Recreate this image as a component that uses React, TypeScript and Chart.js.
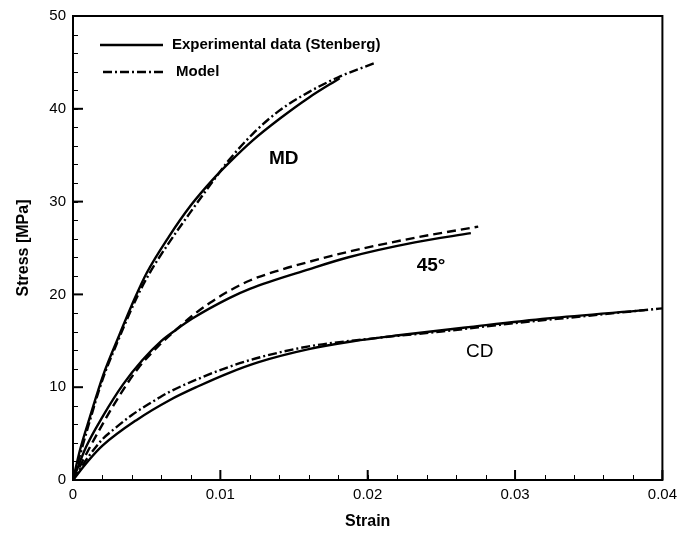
import React, { useEffect, useRef } from "react";
import { Chart, registerables } from "chart.js";
Chart.register(...registerables);

// ---- Data (strain, stress in MPa) ----
const mdExpStrain = [0, 0.00047, 0.00115, 0.00205, 0.00306, 0.0042, 0.005, 0.0065, 0.008, 0.0095, 0.0106, 0.0122, 0.014, 0.016, 0.0181];
const mdExpStress = [0, 3.2, 6.8, 11.3, 15.3, 19.6, 22.3, 26.2, 29.6, 32.4, 34.2, 36.6, 38.9, 41.2, 43.3];
const mdModelStrain = [0, 0.001, 0.002, 0.003, 0.0044, 0.0052, 0.0064, 0.0079, 0.0095, 0.0106, 0.0122, 0.014, 0.016, 0.018, 0.0206];
const mdModelStress = [0, 5.6, 10.8, 14.8, 19.9, 22.3, 25.3, 28.7, 32.2, 34.5, 37.3, 39.8, 41.8, 43.4, 45];

const d45ExpStrain = [0, 0.0009, 0.002, 0.0034, 0.0047, 0.006, 0.007, 0.0081, 0.0106, 0.012, 0.016, 0.0187, 0.0232, 0.027];
const d45ExpStress = [0, 3.6, 6.8, 10.3, 12.9, 15.0, 16.2, 17.4, 19.6, 20.6, 22.7, 24.0, 25.6, 26.6];
const d45ModelStrain = [0, 0.001, 0.002, 0.003, 0.0044, 0.0059, 0.007, 0.0081, 0.0093, 0.0104, 0.012, 0.014, 0.016, 0.0187, 0.0232, 0.0275];
const d45ModelStress = [0, 3.1, 6.0, 8.7, 12.0, 14.6, 16.2, 17.7, 19.1, 20.2, 21.5, 22.6, 23.5, 24.6, 26.1, 27.3];

const cdExpStrain = [0, 0.001, 0.002, 0.0043, 0.00655, 0.0085, 0.0106, 0.0126, 0.016, 0.019, 0.0221, 0.027, 0.0322, 0.0388];
const cdExpStress = [0, 2.0, 3.7, 6.45, 8.6, 10.1, 11.55, 12.7, 14.1, 14.95, 15.6, 16.5, 17.4, 18.3];
const cdModelStrain = [0, 0.001, 0.002, 0.00272, 0.004, 0.00588, 0.00655, 0.0085, 0.0106, 0.01264, 0.016, 0.02, 0.025, 0.03, 0.035, 0.04];
const cdModelStress = [0, 2.4, 4.4, 5.4, 7.0, 8.9, 9.5, 10.9, 12.2, 13.2, 14.4, 15.2, 16.0, 16.9, 17.7, 18.5];

const xTicks = [0, 0.01, 0.02, 0.03, 0.04];
const xTickLabels = ["0", "0.01", "0.02", "0.03", "0.04"];
const yTicks = [0, 10, 20, 30, 40, 50];
const yTickLabels = ["0", "10", "20", "30", "40", "50"];
const xMinorStep = 0.002;
const yMinorStep = 2;

const legendLabels = ["Experimental data (Stenberg)", "Model"];
const curveNames = ["MD", "45°", "CD"];
const curveNameStrain = [0.0143, 0.0243, 0.0276];
const curveNameStress = [34.6, 23.1, 13.8];

const FONT = "'Liberation Sans', Arial, Helvetica, sans-serif";

const pts = (xs: number[], ys: number[]) => xs.map((x, i) => ({ x, y: ys[i] }));

const SOLID: number[] = [];
const DASHDOT = [9, 3, 2, 3];
const DASHED = [9, 5];

export default function App() {
  const ref = useRef<HTMLCanvasElement | null>(null);

  useEffect(() => {
    document.body.style.margin = "0";
    const canvas = ref.current;
    if (!canvas) return;

    const line = (data: { x: number; y: number }[], dash: number[]) => ({
      data,
      borderColor: "#000",
      borderWidth: 2.4,
      borderDash: dash,
      pointRadius: 0,
      fill: false,
      cubicInterpolationMode: "monotone" as const,
    });

    const framePlugin = {
      id: "frameTicks",
      afterDraw(chart: any) {
        const ctx = chart.ctx;
        const { left, right, top, bottom } = chart.chartArea;
        const xs = chart.scales.x;
        const ys = chart.scales.y;
        ctx.save();
        ctx.strokeStyle = "#000";
        ctx.setLineDash([]);
        // minor ticks
        ctx.lineWidth = 1;
        for (let v = 0; v <= 0.04 + 1e-9; v += xMinorStep) {
          const px = Math.round(xs.getPixelForValue(v)) + 0.5;
          ctx.beginPath();
          ctx.moveTo(px, bottom);
          ctx.lineTo(px, bottom - 5);
          ctx.stroke();
        }
        for (let v = 0; v <= 50 + 1e-9; v += yMinorStep) {
          const py = Math.round(ys.getPixelForValue(v)) + 0.5;
          ctx.beginPath();
          ctx.moveTo(left, py);
          ctx.lineTo(left + 5, py);
          ctx.stroke();
        }
        // major ticks
        ctx.lineWidth = 2;
        xTicks.forEach((v) => {
          const px = xs.getPixelForValue(v);
          ctx.beginPath();
          ctx.moveTo(px, bottom);
          ctx.lineTo(px, bottom - 10);
          ctx.stroke();
        });
        yTicks.forEach((v) => {
          const py = ys.getPixelForValue(v);
          ctx.beginPath();
          ctx.moveTo(left, py);
          ctx.lineTo(left + 10, py);
          ctx.stroke();
        });
        // frame
        ctx.lineWidth = 2;
        ctx.strokeRect(left, top, right - left, bottom - top);

        // legend
        ctx.lineWidth = 2.4;
        ctx.font = `bold 15px ${FONT}`;
        ctx.fillStyle = "#000";
        ctx.textBaseline = "middle";
        ctx.textAlign = "left";
        const lx0 = left + 27;
        const rows = [
          { y: top + 29, dash: SOLID, tx: left + 99, text: legendLabels[0] },
          { y: top + 56, dash: DASHDOT, tx: left + 103, text: legendLabels[1] },
        ];
        rows.forEach((r, i) => {
          ctx.setLineDash(r.dash);
          ctx.beginPath();
          ctx.moveTo(lx0 + (i === 1 ? 3 : 0), r.y);
          ctx.lineTo(lx0 + 63 + (i === 1 ? 3 : 0), r.y);
          ctx.stroke();
          ctx.fillText(r.text, r.tx, r.y);
        });
        ctx.setLineDash([]);

        // curve names
        ctx.textAlign = "center";
        curveNames.forEach((n, i) => {
          ctx.font = `${i === 2 ? "" : "bold "}19px ${FONT}`;
          ctx.fillText(n, xs.getPixelForValue(curveNameStrain[i]), ys.getPixelForValue(curveNameStress[i]));
        });
        ctx.restore();
      },
    };

    const chart = new Chart(canvas, {
      type: "line",
      data: {
        datasets: [
          line(pts(mdExpStrain, mdExpStress), SOLID),
          line(pts(mdModelStrain, mdModelStress), DASHDOT),
          line(pts(d45ExpStrain, d45ExpStress), SOLID),
          line(pts(d45ModelStrain, d45ModelStress), DASHED),
          line(pts(cdExpStrain, cdExpStress), SOLID),
          line(pts(cdModelStrain, cdModelStress), DASHDOT),
        ],
      },
      options: {
        animation: false,
        responsive: false,
        layout: { padding: { left: 0, top: 15, right: 18, bottom: 0 } },
        plugins: { legend: { display: false }, tooltip: { enabled: false } },
        scales: {
          x: {
            type: "linear",
            min: 0,
            max: 0.04,
            grid: { display: false, drawTicks: false },
            border: { display: false },
            afterBuildTicks: (s: any) => {
              s.ticks = xTicks.map((v) => ({ value: v }));
            },
            afterFit: (s: any) => {
              s.height = 55;
            },
            ticks: {
              color: "#000",
              padding: 6,
              maxRotation: 0,
              font: { family: FONT, size: 15 },
              callback: (v: any) => xTickLabels[xTicks.findIndex((t) => Math.abs(t - v) < 1e-9)] ?? "",
            },
            title: {
              display: true,
              text: "Strain",
              color: "#000",
              font: { family: FONT, size: 16, weight: "bold" },
              padding: { top: 0, bottom: 4 },
            },
          },
          y: {
            type: "linear",
            min: 0,
            max: 50,
            grid: { display: false, drawTicks: false },
            border: { display: false },
            afterBuildTicks: (s: any) => {
              s.ticks = yTicks.map((v) => ({ value: v }));
            },
            afterFit: (s: any) => {
              s.width = 73;
            },
            ticks: {
              color: "#000",
              padding: 7,
              font: { family: FONT, size: 15 },
              callback: (v: any) => yTickLabels[yTicks.findIndex((t) => Math.abs(t - v) < 1e-9)] ?? "",
            },
            title: {
              display: true,
              text: "Stress [MPa]",
              color: "#000",
              font: { family: FONT, size: 16, weight: "bold" },
              padding: { top: 14, bottom: 0 },
            },
          },
        },
      },
      plugins: [framePlugin],
    });
    return () => chart.destroy();
  }, []);

  return (
    <div style={{ width: 683, height: 535, background: "#fff" }}>
      <canvas ref={ref} width={683} height={535} />
    </div>
  );
}
